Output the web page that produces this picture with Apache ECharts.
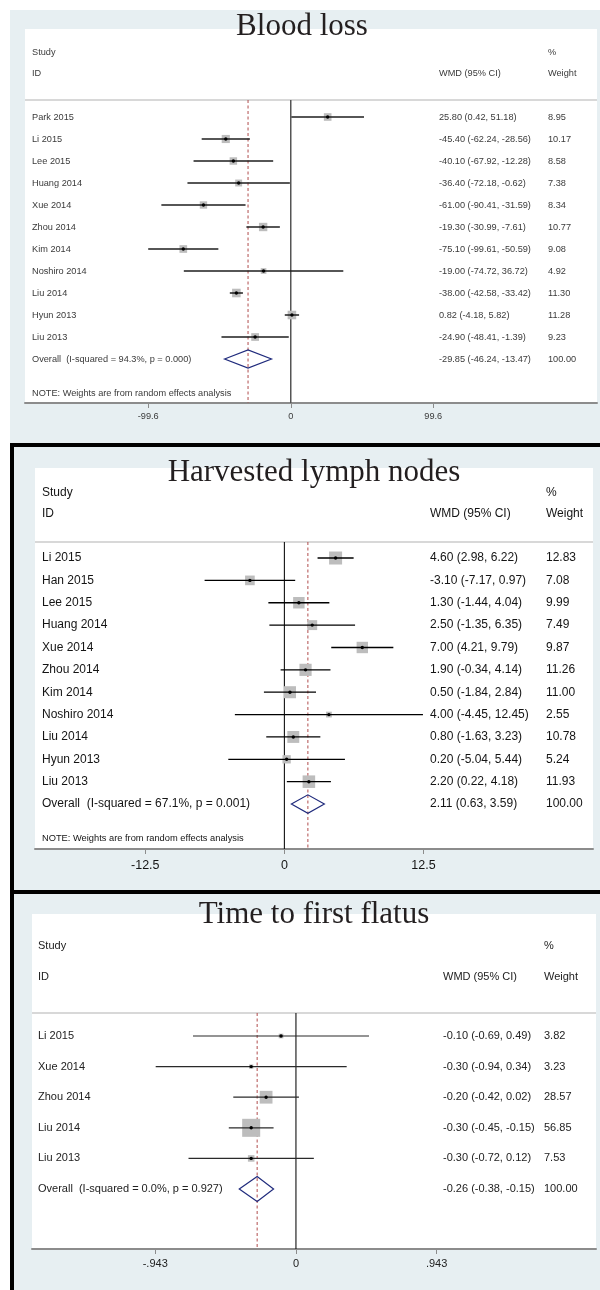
<!DOCTYPE html>
<html>
<head>
<meta charset="utf-8">
<script src="https://cdn.jsdelivr.net/npm/echarts@6/dist/echarts.min.js"></script>
<style>
  html, body { margin: 0; padding: 0; background: #ffffff; }
  #chart { width: 600px; height: 1290px; }
</style>
</head>
<body>
<div id="chart"></div>
<script>
// ---------- Blood loss ----------
const bloodStudies = ['Park 2015', 'Li 2015', 'Lee 2015', 'Huang 2014', 'Xue 2014', 'Zhou 2014', 'Kim 2014', 'Noshiro 2014', 'Liu 2014', 'Hyun 2013', 'Liu 2013'];
const bloodWmd = [25.80, -45.40, -40.10, -36.40, -61.00, -19.30, -75.10, -19.00, -38.00, 0.82, -24.90];
const bloodLow = [0.42, -62.24, -67.92, -72.18, -90.41, -30.99, -99.61, -74.72, -42.58, -4.18, -48.41];
const bloodHigh = [51.18, -28.56, -12.28, -0.62, -31.59, -7.61, -50.59, 36.72, -33.42, 5.82, -1.39];
const bloodWeight = [8.95, 10.17, 8.58, 7.38, 8.34, 10.77, 9.08, 4.92, 11.30, 11.28, 9.23];
const bloodOverall = [-29.85, -46.24, -13.47];
const bloodHetero = ['94.3%', '0.000'];
const bloodTicks = [-99.6, 0, 99.6];
const bloodTickLabels = ['-99.6', '0', '99.6'];

// ---------- Harvested lymph nodes ----------
const nodeStudies = ['Li 2015', 'Han 2015', 'Lee 2015', 'Huang 2014', 'Xue 2014', 'Zhou 2014', 'Kim 2014', 'Noshiro 2014', 'Liu 2014', 'Hyun 2013', 'Liu 2013'];
const nodeWmd = [4.60, -3.10, 1.30, 2.50, 7.00, 1.90, 0.50, 4.00, 0.80, 0.20, 2.20];
const nodeLow = [2.98, -7.17, -1.44, -1.35, 4.21, -0.34, -1.84, -4.45, -1.63, -5.04, 0.22];
const nodeHigh = [6.22, 0.97, 4.04, 6.35, 9.79, 4.14, 2.84, 12.45, 3.23, 5.44, 4.18];
const nodeWeight = [12.83, 7.08, 9.99, 7.49, 9.87, 11.26, 11.00, 2.55, 10.78, 5.24, 11.93];
const nodeOverall = [2.11, 0.63, 3.59];
const nodeHetero = ['67.1%', '0.001'];
const nodeTicks = [-12.5, 0, 12.5];
const nodeTickLabels = ['-12.5', '0', '12.5'];

// ---------- Time to first flatus ----------
const flatusStudies = ['Li 2015', 'Xue 2014', 'Zhou 2014', 'Liu 2014', 'Liu 2013'];
const flatusWmd = [-0.10, -0.30, -0.20, -0.30, -0.30];
const flatusLow = [-0.69, -0.94, -0.42, -0.45, -0.72];
const flatusHigh = [0.49, 0.34, 0.02, -0.15, 0.12];
const flatusWeight = [3.82, 3.23, 28.57, 56.85, 7.53];
const flatusOverall = [-0.26, -0.38, -0.15];
const flatusHetero = ['0.0%', '0.927'];
const flatusTicks = [-0.943, 0, 0.943];
const flatusTickLabels = ['-.943', '0', '.943'];

const SANS = '"Liberation Sans", Arial, Helvetica, sans-serif';
const SERIF = '"Liberation Serif", "Times New Roman", serif';
const PANEL_BG = '#e7eff2';

// Layout of the three forest plots (pixels) and their axis windows
const panels = [
  {
    title: 'Blood loss', titleX: 302, titleBase: 37,
    studies: bloodStudies, wmd: bloodWmd, low: bloodLow, high: bloodHigh, weight: bloodWeight,
    overall: bloodOverall, hetero: bloodHetero, ticks: bloodTicks, tickLabels: bloodTickLabels,
    white: { x: 25, y: 29, w: 572, h: 374 },
    grid: { left: 25, top: 100, width: 572, height: 303 },
    xMin: -185.7, xMax: 214.0, yMin: -0.773, yMax: 13.0,
    colStudy: 32, colWmd: 439, colWeight: 548, headTop: 52, headBottom: 73,
    note: true, noteY: 393, noteFont: 9.2,
    font: 9.2, tickFont: 9.2, labelMargin: 9, textColor: '#3a3a3a',
    ciColor: '#1e1e1e', ciWidth: 1.5, zeroColor: '#555555', zeroWidth: 1.5,
    boxScale: 2.55, diamondHalf: 9
  },
  {
    title: 'Harvested lymph nodes', titleX: 314, titleBase: 483,
    studies: nodeStudies, wmd: nodeWmd, low: nodeLow, high: nodeHigh, weight: nodeWeight,
    overall: nodeOverall, hetero: nodeHetero, ticks: nodeTicks, tickLabels: nodeTickLabels,
    white: { x: 35, y: 468, w: 558, h: 381 },
    grid: { left: 35, top: 542, width: 558, height: 307 },
    xMin: -22.41, xMax: 27.73, yMin: -0.716, yMax: 13.01,
    colStudy: 42, colWmd: 430, colWeight: 546, headTop: 493, headBottom: 514,
    note: true, noteY: 838, noteFont: 9.3,
    font: 12, tickFont: 12.5, labelMargin: 10, textColor: '#141414',
    ciColor: '#000000', ciWidth: 1.3, zeroColor: '#111111', zeroWidth: 1.1,
    boxScale: 3.63, diamondHalf: 9.2
  },
  {
    title: 'Time to first flatus', titleX: 314, titleBase: 925,
    studies: flatusStudies, wmd: flatusWmd, low: flatusLow, high: flatusHigh, weight: flatusWeight,
    overall: flatusOverall, hetero: flatusHetero, ticks: flatusTicks, tickLabels: flatusTickLabels,
    white: { x: 32, y: 914, w: 564, h: 335 },
    grid: { left: 32, top: 1013, width: 564, height: 236 },
    xMin: -1.769, xMax: 2.011, yMin: -0.752, yMax: 6.96,
    colStudy: 38, colWmd: 443, colWeight: 544, headTop: 946, headBottom: 977,
    note: false,
    font: 11, tickFont: 11, labelMargin: 9.5, textColor: '#222222',
    ciColor: '#2a2a2a', ciWidth: 1.2, zeroColor: '#111111', zeroWidth: 1.1,
    boxScale: 2.39, diamondHalf: 12.5
  }
];

const fmt = v => v.toFixed(2);
const wmdText = (e, l, h) => fmt(e) + ' (' + fmt(l) + ', ' + fmt(h) + ')';

function textEl(x, y, text, size, color, align, family) {
  return {
    type: 'text', x: x, y: y, z: 20, silent: true,
    style: { text: text, fontSize: size, fontFamily: family || SANS, fill: color, align: align || 'left', verticalAlign: 'middle' }
  };
}

const grids = [], xAxes = [], yAxes = [], series = [];
const elements = [
  // panel frames
  { type: 'rect', z: -10, shape: { x: 10, y: 10, width: 590, height: 433 }, style: { fill: PANEL_BG } },
  { type: 'rect', z: -10, shape: { x: 14, y: 447, width: 586, height: 443 }, style: { fill: PANEL_BG } },
  { type: 'rect', z: -10, shape: { x: 14, y: 894, width: 586, height: 396 }, style: { fill: PANEL_BG } },
  { type: 'rect', z: -9, shape: { x: 10, y: 443, width: 590, height: 4 }, style: { fill: '#000000' } },
  { type: 'rect', z: -9, shape: { x: 10, y: 890, width: 590, height: 4 }, style: { fill: '#000000' } },
  { type: 'rect', z: -9, shape: { x: 10, y: 443, width: 4, height: 847 }, style: { fill: '#000000' } }
];

panels.forEach((p, k) => {
  const w = p.white;
  elements.push({ type: 'rect', z: -8, shape: { x: w.x, y: w.y, width: w.w, height: w.h }, style: { fill: '#ffffff' } });
  elements.push({ type: 'rect', z: -7, shape: { x: w.x, y: p.grid.top - 1, width: w.w, height: 2 }, style: { fill: '#d8d8d8' } });

  // headers
  elements.push(textEl(p.colStudy, p.headTop, 'Study', p.font, p.textColor));
  elements.push(textEl(p.colStudy, p.headBottom, 'ID', p.font, p.textColor));
  elements.push(textEl(p.colWmd, p.headBottom, 'WMD (95% CI)', p.font, p.textColor));
  elements.push(textEl(p.colWeight, p.headTop, '%', p.font, p.textColor));
  elements.push(textEl(p.colWeight, p.headBottom, 'Weight', p.font, p.textColor));
  if (p.note) {
    elements.push(textEl(p.colStudy, p.noteY, 'NOTE: Weights are from random effects analysis', p.noteFont, p.textColor));
  }
  // panel title
  elements.push(textEl(p.titleX, p.titleBase - 10.5, p.title, 31, '#231f20', 'center', SERIF));

  grids.push({ left: p.grid.left, top: p.grid.top, width: p.grid.width, height: p.grid.height, show: false });

  xAxes.push({
    type: 'value', gridIndex: k, min: p.xMin, max: p.xMax,
    splitLine: { show: false },
    axisLine: { show: true, onZero: false, lineStyle: { color: '#8c8c8c', width: 2 } },
    axisTick: { show: true, customValues: p.ticks, length: 5, lineStyle: { color: '#8c8c8c', width: 1 } },
    axisLabel: {
      customValues: p.ticks, margin: p.labelMargin, color: p.textColor, fontSize: p.tickFont, fontFamily: SANS,
      formatter: v => {
        let best = 0;
        p.ticks.forEach((t, j) => { if (Math.abs(t - v) < Math.abs(p.ticks[best] - v)) best = j; });
        return p.tickLabels[best];
      }
    }
  });
  yAxes.push({ type: 'value', gridIndex: k, inverse: true, min: p.yMin, max: p.yMax, show: false });

  // reference lines: no effect (solid) and pooled estimate (dashed)
  series.push({
    type: 'custom', xAxisIndex: k, yAxisIndex: k, silent: true, z: 1,
    data: [[0, 0], [p.overall[0], 0]],
    encode: { x: 0, y: 1 },
    renderItem: (params, api) => {
      const cs = params.coordSys;
      const x = api.coord([api.value(0), 0])[0];
      const solid = params.dataIndex === 0;
      return {
        type: 'line',
        shape: { x1: x, y1: cs.y, x2: x, y2: cs.y + cs.height },
        style: solid
          ? { stroke: p.zeroColor, lineWidth: p.zeroWidth }
          : { stroke: '#b04c4c', lineWidth: 1, lineDash: [3, 2.5] }
      };
    }
  });

  // individual studies
  series.push({
    type: 'custom', xAxisIndex: k, yAxisIndex: k, silent: true, z: 3,
    data: p.studies.map((s, i) => [p.wmd[i], p.low[i], p.high[i], p.weight[i], i]),
    encode: { x: [0, 1, 2], y: 4 },
    renderItem: (params, api) => {
      const i = api.value(4);
      const pe = api.coord([api.value(0), i]);
      const pl = api.coord([api.value(1), i]);
      const ph = api.coord([api.value(2), i]);
      const side = p.boxScale * Math.sqrt(api.value(3));
      const idx = params.dataIndex;
      const y = pe[1];
      return {
        type: 'group',
        children: [
          { type: 'rect', shape: { x: pe[0] - side / 2, y: y - side / 2, width: side, height: side }, style: { fill: '#bdbdbd' } },
          { type: 'line', shape: { x1: pl[0], y1: y, x2: ph[0], y2: y }, style: { stroke: p.ciColor, lineWidth: p.ciWidth } },
          { type: 'circle', shape: { cx: pe[0], cy: y, r: 1.7 }, style: { fill: '#000000' } },
          { type: 'text', x: p.colStudy, y: y, style: { text: p.studies[idx], fontSize: p.font, fontFamily: SANS, fill: p.textColor, align: 'left', verticalAlign: 'middle' } },
          { type: 'text', x: p.colWmd, y: y, style: { text: wmdText(p.wmd[idx], p.low[idx], p.high[idx]), fontSize: p.font, fontFamily: SANS, fill: p.textColor, align: 'left', verticalAlign: 'middle' } },
          { type: 'text', x: p.colWeight, y: y, style: { text: fmt(p.weight[idx]), fontSize: p.font, fontFamily: SANS, fill: p.textColor, align: 'left', verticalAlign: 'middle' } }
        ]
      };
    }
  });

  // pooled estimate diamond
  series.push({
    type: 'custom', xAxisIndex: k, yAxisIndex: k, silent: true, z: 4,
    data: [[p.overall[0], p.overall[1], p.overall[2], p.studies.length]],
    encode: { x: [0, 1, 2], y: 3 },
    renderItem: (params, api) => {
      const i = api.value(3);
      const pe = api.coord([api.value(0), i]);
      const pl = api.coord([api.value(1), i]);
      const ph = api.coord([api.value(2), i]);
      const y = pe[1], h = p.diamondHalf;
      return {
        type: 'group',
        children: [
          { type: 'polygon', shape: { points: [[pl[0], y], [pe[0], y - h], [ph[0], y], [pe[0], y + h]] }, style: { fill: null, stroke: '#1f2a7c', lineWidth: 1.2 } },
          { type: 'text', x: p.colStudy, y: y, style: { text: 'Overall  (I-squared = ' + p.hetero[0] + ', p = ' + p.hetero[1] + ')', fontSize: p.font, fontFamily: SANS, fill: p.textColor, align: 'left', verticalAlign: 'middle' } },
          { type: 'text', x: p.colWmd, y: y, style: { text: wmdText(p.overall[0], p.overall[1], p.overall[2]), fontSize: p.font, fontFamily: SANS, fill: p.textColor, align: 'left', verticalAlign: 'middle' } },
          { type: 'text', x: p.colWeight, y: y, style: { text: '100.00', fontSize: p.font, fontFamily: SANS, fill: p.textColor, align: 'left', verticalAlign: 'middle' } }
        ]
      };
    }
  });
});

const chart = echarts.init(document.getElementById('chart'), null, { renderer: 'canvas' });
chart.setOption({
  animation: false,
  backgroundColor: '#ffffff',
  grid: grids,
  xAxis: xAxes,
  yAxis: yAxes,
  graphic: { elements: elements },
  series: series
});
</script>
</body>
</html>
